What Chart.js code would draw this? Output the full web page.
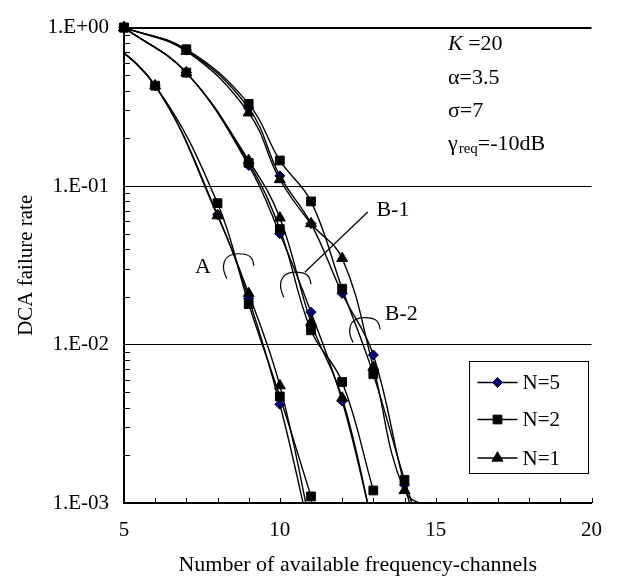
<!DOCTYPE html>
<html><head><meta charset="utf-8">
<script src="https://cdn.jsdelivr.net/npm/chart.js@4/dist/chart.umd.min.js"></script>
<style>html,body{margin:0;padding:0;background:#fff;}canvas{display:block;}</style>
</head><body>
<canvas id="c" width="617" height="587"></canvas>
<script>
// ---- data ----
const xTickLabels = ['5','10','15','20'];
const xTickValues = [5,10,15,20];
const yTickValues = [0.001,0.01,0.1,1];
const yTickLabels = ['1.E-03','1.E-02','1.E-01','1.E+00'];
const seriesNames = ['N=5','N=2','N=1'];

const xA  = [4,6,8,9,10,11];
const A_N5 = [1.0,0.43,0.066,0.0195,0.0042,0.0006];
const A_N2 = [1.0,0.43,0.078,0.018,0.0047,0.0011];
const A_N1 = [1.0,0.43,0.065,0.021,0.0055,0.0007];

const xB1 = [5,7,9,10,11,12,13];
const B1_N5 = [1.0,0.52,0.135,0.050,0.016,0.0044,0.0007];
const B1_N2 = [1.0,0.52,0.14,0.0535,0.0123,0.0058,0.0012];
const B1_N1 = [1.0,0.52,0.145,0.063,0.0138,0.0046,0.0007];

const xB2 = [5,7,9,10,11,12,13,14,15];
const B2_N5 = [1.0,0.72,0.31,0.116,0.058,0.021,0.0086,0.0013,0.0003];
const B2_N2 = [1.0,0.73,0.33,0.145,0.080,0.0225,0.0065,0.0014,0.00035];
const B2_N1 = [1.0,0.71,0.29,0.110,0.058,0.035,0.0072,0.0012,0.0009];

// ---- styles ----
const FONT = '"Liberation Serif", "Times New Roman", serif';
const markerStyles = [
  {pointStyle:'rectRot', radius:5, bg:'#000080'},
  {pointStyle:'rect', radius:6.2, bg:'#000000'},
  {pointStyle:'triangle', radius:6.3, bg:'#000000'}
];
const groups = [
  {x:xA,  s:[A_N5,A_N2,A_N1]},
  {x:xB1, s:[B1_N5,B1_N2,B1_N1]},
  {x:xB2, s:[B2_N5,B2_N2,B2_N1]}
];
const X_MIN=5, X_MAX=20, Y_MIN=0.001, Y_MAX=1;

const datasets = [];
groups.forEach((g)=>{
  g.s.forEach((vals,si)=>{
    const pts = g.x.map((x,i)=>({x, y:vals[i]}));
    datasets.push({label:seriesNames[si], data:pts, showLine:true, borderColor:'#000', borderWidth:1.4,
      pointRadius:0, tension:0.4, order:3, fill:false});
  });
});
groups.forEach((g)=>{
  g.s.forEach((vals,si)=>{
    const pts = g.x.map((x,i)=>({x, y:vals[i]})).filter(p=>p.x>=X_MIN&&p.x<=X_MAX&&p.y>=Y_MIN&&p.y<=Y_MAX);
    const st = markerStyles[si];
    datasets.push({label:seriesNames[si]+'_m', data:pts, showLine:false, clip:false,
      pointStyle:st.pointStyle, pointRadius:st.radius, pointBackgroundColor:st.bg,
      pointBorderColor:'#000', pointBorderWidth:1, order:1-si*0.1});
  });
});

// ---- annotation config (data units) ----
const groupLabels = [
  {text:'A',   x:7.53, y:0.0307, align:'center'},
  {text:'B-1', x:13.1, y:0.0706, align:'left'},
  {text:'B-2', x:13.37, y:0.0156, align:'left'}
];
const brackets = [
  {x:8.67, y:0.0374},
  {x:10.5, y:0.0286},
  {x:12.72, y:0.0148}
];
const leader = {x1:10.8, y1:0.0286, x2:12.82, y2:0.0686};

const decor = {
  id:'decor',
  afterDraw(chart){
    const {ctx, chartArea:a, scales:{x,y}} = chart;
    ctx.save();
    ctx.strokeStyle='#000'; ctx.lineWidth=1;
    // inward ticks
    ctx.beginPath();
    for(let v=X_MIN+1; v<=X_MAX; v++){
      const px=Math.round(x.getPixelForValue(v))+0.5;
      ctx.moveTo(px,a.bottom); ctx.lineTo(px,a.bottom-5);
    }
    for(let e=-3;e<0;e++) for(let m=2;m<=9;m++){
      const py=Math.round(y.getPixelForValue(m*Math.pow(10,e)))+0.5;
      ctx.moveTo(a.left,py); ctx.lineTo(a.left+6,py);
    }
    ctx.stroke();
    // brackets
    ctx.lineWidth=1.2;
    brackets.forEach(b=>{
      const cx=x.getPixelForValue(b.x), ty=y.getPixelForValue(b.y);
      const w=29, hl=25, hr=12, L=cx-w/2, R=cx+w/2;
      ctx.beginPath();
      ctx.moveTo(L+3, ty+hl);
      ctx.bezierCurveTo(L-3, ty+hl*0.55, L-2, ty, cx, ty);
      ctx.bezierCurveTo(R-3, ty, R, ty+hr*0.3, R+1, ty+hr);
      ctx.stroke();
    });
    ctx.beginPath();
    ctx.moveTo(x.getPixelForValue(leader.x1), y.getPixelForValue(leader.y1));
    ctx.lineTo(x.getPixelForValue(leader.x2), y.getPixelForValue(leader.y2));
    ctx.stroke();
    // group labels
    ctx.fillStyle='#000'; ctx.font='22px '+FONT; ctx.textBaseline='middle';
    groupLabels.forEach(l=>{
      ctx.textAlign=l.align;
      ctx.fillText(l.text, x.getPixelForValue(l.x), y.getPixelForValue(l.y));
    });
    // parameter text
    const tx=a.left+324;
    ctx.textAlign='left'; ctx.textBaseline='alphabetic';
    ctx.font='italic 22px '+FONT; ctx.fillText('K',tx,50);
    let w=ctx.measureText('K').width;
    ctx.font='22px '+FONT; ctx.fillText(' =20',tx+w,50);
    ctx.fillText('\u03B1=3.5',tx,84);
    ctx.fillText('\u03C3=7',tx,117);
    ctx.fillText('\u03B3',tx,150);
    w=ctx.measureText('\u03B3').width;
    ctx.font='15px '+FONT; ctx.fillText('req',tx+w+1,153);
    const w2=ctx.measureText('req').width;
    ctx.font='22px '+FONT; ctx.fillText('=-10dB',tx+w+1+w2,150);
    // legend
    const bx=a.right-123, by=a.bottom-142, bw=119, bh=112;
    ctx.fillStyle='#fff'; ctx.fillRect(bx,by,bw,bh);
    ctx.lineWidth=1; ctx.strokeStyle='#000';
    ctx.strokeRect(Math.round(bx)+0.5,Math.round(by)+0.5,bw,bh);
    const rows=[21.5,58.5,97];
    const metas = chart.data.datasets;
    seriesNames.forEach((n,i)=>{
      const yy=by+rows[i];
      ctx.beginPath(); ctx.lineWidth=1.4; ctx.moveTo(bx+9,yy); ctx.lineTo(bx+49,yy); ctx.stroke();
      const ds = metas[9+i];
      ctx.fillStyle=ds.pointBackgroundColor; ctx.strokeStyle='#000'; ctx.lineWidth=1;
      Chart.helpers.drawPoint(ctx,{pointStyle:ds.pointStyle, radius:ds.pointRadius, borderWidth:1, rotation:0}, bx+29, yy);
      ctx.fillStyle='#000'; ctx.font='21px '+FONT; ctx.textAlign='left'; ctx.textBaseline='middle';
      ctx.fillText(n,bx+54,yy+1);
    });
    ctx.restore();
  }
};

new Chart(document.getElementById('c'),{
  type:'scatter',
  data:{datasets},
  plugins:[decor],
  options:{
    responsive:false, animation:false, devicePixelRatio:1,
    layout:{padding:{left:0,top:13,right:25,bottom:0}},
    plugins:{legend:{display:false}, tooltip:{enabled:false}},
    scales:{
      x:{type:'linear', min:X_MIN, max:X_MAX,
        afterFit:s=>{s.height=84;},
        afterBuildTicks:s=>{s.ticks=xTickValues.map(v=>({value:v}));},
        ticks:{color:'#000', font:{family:FONT,size:21}, padding:15,
          callback:(v)=>{const i=xTickValues.indexOf(v);return i>=0?xTickLabels[i]:'';}, maxRotation:0},
        grid:{display:false, drawTicks:false},
        border:{display:true,color:'#000',width:2},
        title:{display:true,text:'Number of available frequency-channels',color:'#000',
          font:{family:FONT,size:22}, padding:{top:0,bottom:9}}
      },
      y:{type:'logarithmic', min:Y_MIN, max:Y_MAX,
        afterFit:s=>{s.width=124;},
        afterBuildTicks:s=>{s.ticks=yTickValues.map(v=>({value:v}));},
        ticks:{color:'#000', font:{family:FONT,size:21}, padding:15,
          callback:(v)=>{const i=yTickValues.findIndex(t=>Math.abs(t-v)/t<1e-6);return i>=0?yTickLabels[i]:'';}},
        grid:{display:true, drawTicks:false, color:'#000', lineWidth:(c)=>c.tick&&c.tick.value===1?2:1},
        border:{display:true,color:'#000',width:2},
        title:{display:true,text:'DCA failure rate',color:'#000',
          font:{family:FONT,size:21}, padding:{top:14,bottom:0}}
      }
    }
  }
});
</script>
</body></html>
